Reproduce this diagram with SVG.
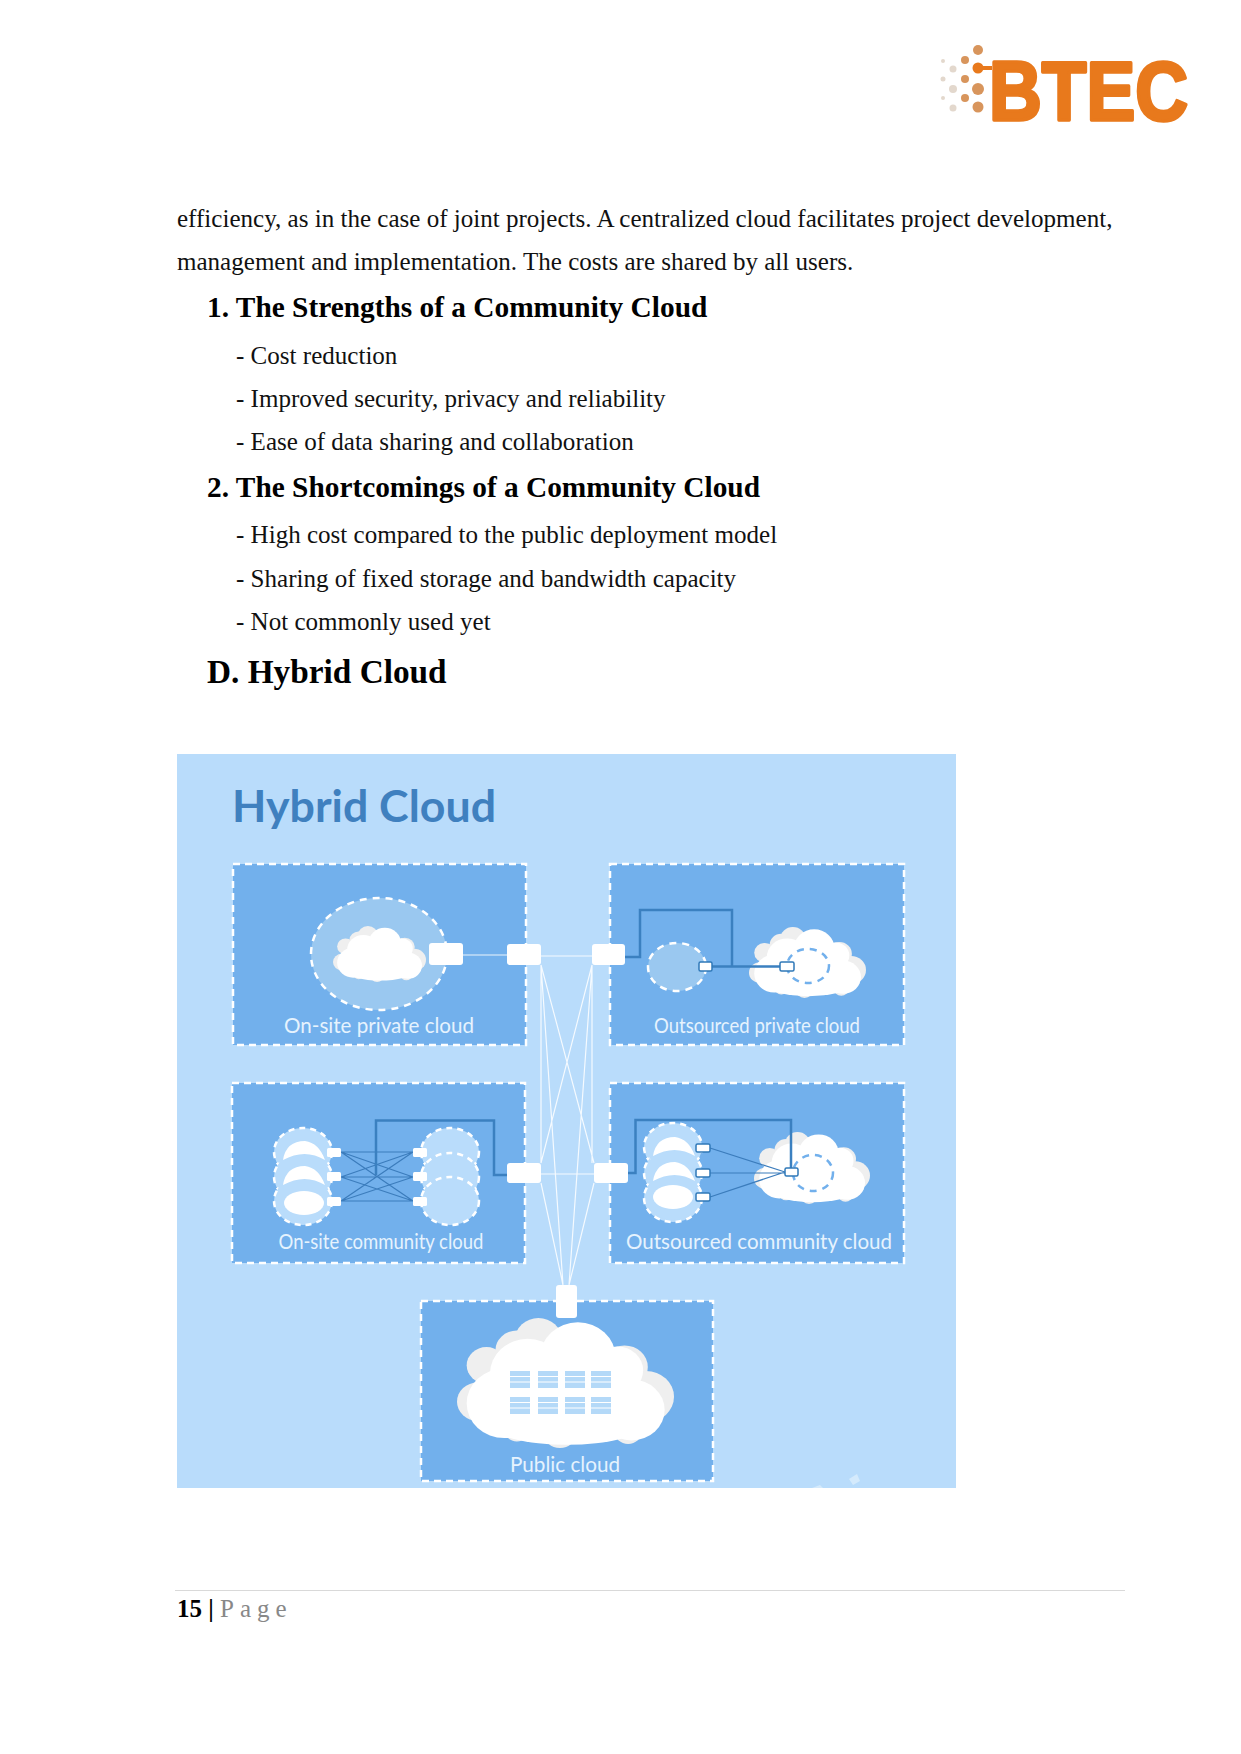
<svg xmlns="http://www.w3.org/2000/svg" xmlns:xlink="http://www.w3.org/1999/xlink" width="1241" height="1754" viewBox="0 0 1241 1754">
<style>
.b{font:25.05px "Liberation Serif",serif;fill:#111}
.h{font:bold 29.35px "Liberation Serif",serif;fill:#000}
.box{fill:#72b0ec;stroke:#fff;stroke-width:2.5;stroke-dasharray:7 5}
.lb{font:400 21px Lato,"Open Sans",sans-serif;fill:#e6f3fe;text-anchor:middle}
.nd{fill:#fff;rx:3}
.sm{fill:#fff;stroke:#2f78b8;stroke-width:1.5}
.wl{stroke:#fff;stroke-width:1.2;fill:none;opacity:.85}
.bl{stroke:#3b80c0;stroke-width:2.5;fill:none}
.tl{stroke:#3b7cbc;stroke-width:1.2;fill:none}
.el{fill:#9ac8f0;stroke:#fff;stroke-width:2.5;stroke-dasharray:7 6}
.bb{fill:#b9dcfb;stroke:#fff;stroke-width:2.5;stroke-dasharray:6 5}
.ie{fill:none;stroke:#72b0ec;stroke-width:2.5;stroke-dasharray:7 6}
.sv{fill:#b4d9f8}
.dot{fill:#d8955c}
.dg{fill:#e3d8cd}
</style>
<defs>
<symbol id="cloud" viewBox="133 142 605 393" preserveAspectRatio="none">
<g fill="#efefef"><circle cx="215" cy="285" r="55"/><circle cx="300" cy="240" r="60"/><circle cx="360" cy="207" r="65"/><circle cx="600" cy="290" r="65"/><circle cx="660" cy="380" r="78"/><circle cx="191" cy="395" r="58"/><circle cx="420" cy="490" r="45"/><circle cx="300" cy="480" r="35"/><circle cx="610" cy="485" r="38"/></g>
<g fill="#fff"><circle cx="470" cy="260" r="105"/><circle cx="330" cy="310" r="105"/><circle cx="265" cy="400" r="105"/><circle cx="540" cy="390" r="110"/><circle cx="620" cy="420" r="92"/><circle cx="400" cy="410" r="110"/><ellipse cx="440" cy="465" rx="210" ry="60"/><circle cx="580" cy="300" r="72"/></g>
</symbol>
<path id="cres" d="M0 19Q3 0 22 0Q36 2 42 19Q22 7 0 19Z" fill="#fff"/>
<g id="srv"><rect class="sv" width="20" height="17"/><path d="M0 5.500H20M0 11H20" stroke="#fff" stroke-width="1"/></g>
<filter id="soft"><feGaussianBlur stdDeviation=".6"/></filter>
</defs>
<rect width="1241" height="1754" fill="#fff"/>

<g id="logo">
<g filter="url(#soft)">
<g class="dot"><circle cx="978" cy="50" r="5"/><circle cx="965" cy="60" r="4"/><circle cx="978" cy="68" r="5.500" fill="#e8791c"/><circle cx="965" cy="79" r="4"/><circle cx="978" cy="89" r="6"/><circle cx="965" cy="98" r="4"/><circle cx="978" cy="107" r="5.500"/></g>
<g class="dg"><circle cx="953" cy="69" r="3.500"/><circle cx="943" cy="61" r="2"/><circle cx="953" cy="89" r="4"/><circle cx="943" cy="79" r="2.500"/><circle cx="953" cy="108" r="3.500"/><circle cx="943" cy="98" r="2"/></g>
<path d="M978 68H992" stroke="#e8791c" stroke-width="4"/>
</g>
<text x="989" y="120" font-family="Liberation Sans,sans-serif" font-weight="700" font-size="83" textLength="199" lengthAdjust="spacingAndGlyphs" fill="#e8791c" stroke="#e8791c" stroke-width="3.500" stroke-linejoin="round">BTEC</text>
</g>

<g id="page-text">
<text class="b" x="177" y="227">efficiency, as in the case of joint projects. A centralized cloud facilitates project development,</text>
<text class="b" x="177" y="270">management and implementation. The costs are shared by all users.</text>
<text class="h" x="207" y="317">1. The Strengths of a Community Cloud</text>
<text class="b" x="236" y="364">- Cost reduction</text>
<text class="b" x="236" y="407">- Improved security, privacy and reliability</text>
<text class="b" x="236" y="450">- Ease of data sharing and collaboration</text>
<text class="h" x="207" y="497">2. The Shortcomings of a Community Cloud</text>
<text class="b" x="236" y="543">- High cost compared to the public deployment model</text>
<text class="b" x="236" y="587">- Sharing of fixed storage and bandwidth capacity</text>
<text class="b" x="236" y="630">- Not commonly used yet</text>
<text x="207" y="683" font-family="Liberation Serif,serif" font-weight="700" font-size="33.300">D. Hybrid Cloud</text>
</g>

<rect id="panel" x="177" y="754" width="779" height="734" fill="#b9dcfb"/>
<text x="232" y="822" font-family="Lato,Open Sans,sans-serif" font-weight="700" font-size="44" textLength="264" lengthAdjust="spacingAndGlyphs" fill="#3f80bf">Hybrid Cloud</text>

<g id="box-onsite-private">
<rect class="box" x="233" y="864" width="293" height="181"/>
<ellipse class="el" cx="379" cy="954" rx="68" ry="56"/>
<use xlink:href="#cloud" href="#cloud" x="333" y="926" width="93" height="56"/>
<rect class="nd" x="429" y="943" width="34" height="22"/>
<text class="lb" x="379" y="1033" textLength="190" lengthAdjust="spacingAndGlyphs">On-site private cloud</text>
</g>

<g id="box-outsourced-private">
<rect class="box" x="610" y="864" width="294" height="181"/>
<ellipse class="el" cx="677" cy="967" rx="29" ry="24"/>
<use xlink:href="#cloud" href="#cloud" x="749" y="927" width="117" height="71"/>
<ellipse class="ie" cx="808" cy="966" rx="21" ry="17"/>
<path class="bl" d="M625 957H640V910H732V966.500M712 966.500H780"/>
<rect class="sm" x="699" y="962" width="13" height="9" rx="1.500"/>
<rect class="sm" x="780" y="962" width="14" height="9" rx="1.500"/>
<text class="lb" x="757" y="1033" textLength="206" lengthAdjust="spacingAndGlyphs">Outsourced private cloud</text>
</g>

<g id="box-onsite-community">
<rect class="box" x="232" y="1083" width="293" height="180"/>
<g class="bb"><ellipse cx="303" cy="1152" rx="29" ry="24"/><ellipse cx="303" cy="1177" rx="29" ry="24"/><ellipse cx="303" cy="1201" rx="29" ry="24"/></g>
<g fill="#b9dcfb"><ellipse cx="303" cy="1152" rx="27" ry="22"/><ellipse cx="303" cy="1177" rx="27" ry="22"/><ellipse cx="303" cy="1201" rx="27" ry="22"/></g>
<use xlink:href="#cres" href="#cres" x="283" y="1141"/><use xlink:href="#cres" href="#cres" x="283" y="1166"/>
<ellipse cx="304" cy="1203" rx="20" ry="12" fill="#fff"/>
<g class="bb"><ellipse cx="450" cy="1152" rx="29" ry="24"/><ellipse cx="450" cy="1177" rx="29" ry="24"/><ellipse cx="450" cy="1201" rx="29" ry="24"/></g>
<path class="tl" d="M341 1152H413M341 1152L413 1177M341 1152L413 1201M341 1177L413 1152M341 1177H413M341 1177L413 1201M341 1201L413 1152M341 1201L413 1177M341 1201H413"/>
<path class="bl" d="M376 1175V1120.500H494V1175H507"/>
<g class="nd"><rect x="327" y="1148" width="14" height="9" rx="1.500"/><rect x="327" y="1172" width="14" height="9" rx="1.500"/><rect x="327" y="1197" width="14" height="9" rx="1.500"/><rect x="413" y="1148" width="14" height="9" rx="1.500"/><rect x="413" y="1172" width="14" height="9" rx="1.500"/><rect x="413" y="1197" width="14" height="9" rx="1.500"/></g>
<text class="lb" x="381" y="1249" textLength="205" lengthAdjust="spacingAndGlyphs">On-site community cloud</text>
</g>

<g id="box-outsourced-community">
<rect class="box" x="610" y="1083" width="294" height="180"/>
<g class="bb"><ellipse cx="673" cy="1147" rx="29" ry="24"/><ellipse cx="673" cy="1173" rx="29" ry="24"/><ellipse cx="673" cy="1198" rx="29" ry="24"/></g>
<g fill="#b9dcfb"><ellipse cx="673" cy="1147" rx="27" ry="22"/><ellipse cx="673" cy="1173" rx="27" ry="22"/><ellipse cx="673" cy="1198" rx="27" ry="22"/></g>
<use xlink:href="#cres" href="#cres" x="653" y="1137"/><use xlink:href="#cres" href="#cres" x="653" y="1162"/>
<ellipse cx="673" cy="1197" rx="20" ry="12" fill="#fff"/>
<use xlink:href="#cloud" href="#cloud" x="754" y="1132" width="116" height="72"/>
<ellipse class="ie" cx="813" cy="1173" rx="20" ry="18"/>
<path class="tl" d="M710 1148L785 1172M710 1173H785M710 1197L785 1172" stroke-width="1.500"/>
<path class="bl" d="M628 1173H635.500V1120H791V1172"/>
<rect class="sm" x="696" y="1144" width="14" height="8" rx="1.500"/><rect class="sm" x="696" y="1169" width="14" height="8" rx="1.500"/><rect class="sm" x="696" y="1193" width="14" height="8" rx="1.500"/>
<rect class="sm" x="785" y="1168" width="13" height="8" rx="1.500"/>
<text class="lb" x="759" y="1249" textLength="266" lengthAdjust="spacingAndGlyphs">Outsourced community cloud</text>
</g>

<g id="box-public">
<rect class="box" x="421" y="1301" width="292" height="180"/>
<use xlink:href="#cloud" href="#cloud" x="457" y="1318" width="217" height="130"/>
<use xlink:href="#srv" href="#srv" x="510" y="1371"/><use xlink:href="#srv" href="#srv" x="538" y="1371"/><use xlink:href="#srv" href="#srv" x="565" y="1371"/><use xlink:href="#srv" href="#srv" x="591" y="1371"/>
<use xlink:href="#srv" href="#srv" x="510" y="1397"/><use xlink:href="#srv" href="#srv" x="538" y="1397"/><use xlink:href="#srv" href="#srv" x="565" y="1397"/><use xlink:href="#srv" href="#srv" x="591" y="1397"/>
<text class="lb" x="565" y="1472" textLength="110" lengthAdjust="spacingAndGlyphs">Public cloud</text>
</g>

<g id="connectors">
<path class="wl" d="M463 955H507M541 956H592M541 1174H594M541 965V1163M541 965L594 1163M541 965L563 1285M592 965L541 1163M592 965V1163M592 965L569 1285M541 1183L563 1285M594 1183L569 1285"/>
</g>
<g id="hub-a"><rect class="nd" x="507" y="944" width="34" height="21"/></g>
<g id="hub-b"><rect class="nd" x="592" y="944" width="33" height="21"/></g>
<g id="hub-c"><rect class="nd" x="507" y="1163" width="34" height="20"/></g>
<g id="hub-d"><rect class="nd" x="594" y="1163" width="34" height="20"/></g>
<g id="hub-e"><rect class="nd" x="556" y="1285" width="21" height="33"/></g>
<path d="M849 1479L857 1474L860 1481L853 1485Z" fill="#d4eafc"/>
<path d="M812 1488L820 1485L823 1488Z" fill="#d4eafc"/>

<g id="footer">
<path d="M175 1590.500H1125" stroke="#d9d9d9" stroke-width="1"/>
<text x="177" y="1617" font-family="Liberation Serif,serif" font-size="25" font-weight="700">15 |</text>
<text x="220" y="1617" font-family="Liberation Serif,serif" font-size="25" fill="#888" letter-spacing="6">Page</text>
</g>
</svg>
